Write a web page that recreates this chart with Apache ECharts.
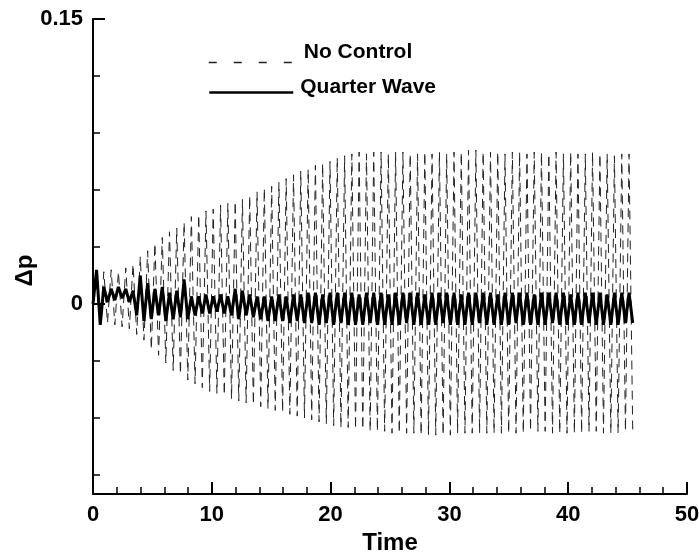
<!DOCTYPE html>
<html>
<head>
<meta charset="utf-8">
<script src="https://cdn.jsdelivr.net/npm/echarts@6/dist/echarts.min.js"></script>
<style>html,body{margin:0;padding:0;background:#fff}#chart{width:699px;height:553px}</style>
</head>
<body>
<div id="chart"></div>
<script>
const time = [0, 0.30, 0.61, 0.91, 1.22, 1.53, 1.84, 2.14, 2.45, 2.76, 3.06, 3.37, 3.68, 3.98, 4.29, 4.60, 4.91, 5.21, 5.52, 5.83, 6.13, 6.44, 6.75, 7.05, 7.36, 7.67, 7.98, 8.28, 8.59, 8.90, 9.20, 9.51, 9.82, 10.12, 10.43, 10.74, 11.05, 11.35, 11.66, 11.97, 12.27, 12.58, 12.89, 13.19, 13.50, 13.81, 14.12, 14.42, 14.73, 15.04, 15.34, 15.65, 15.96, 16.26, 16.57, 16.88, 17.19, 17.49, 17.80, 18.11, 18.41, 18.72, 19.03, 19.33, 19.64, 19.95, 20.26, 20.56, 20.87, 21.18, 21.48, 21.79, 22.10, 22.40, 22.71, 23.02, 23.33, 23.63, 23.94, 24.25, 24.55, 24.86, 25.17, 25.47, 25.78, 26.09, 26.40, 26.70, 27.01, 27.32, 27.62, 27.93, 28.24, 28.54, 28.85, 29.16, 29.47, 29.77, 30.08, 30.39, 30.69, 31.00, 31.31, 31.61, 31.92, 32.23, 32.54, 32.84, 33.15, 33.46, 33.76, 34.07, 34.38, 34.68, 34.99, 35.30, 35.61, 35.91, 36.22, 36.53, 36.83, 37.14, 37.45, 37.75, 38.06, 38.37, 38.68, 38.98, 39.29, 39.60, 39.90, 40.21, 40.52, 40.82, 41.13, 41.44, 41.75, 42.05, 42.36, 42.67, 42.97, 43.28, 43.59, 43.89, 44.20, 44.51, 44.82, 45.12, 45.43];

const noControl = [0,
  0.010, -0.011, 0.017, -0.010, 0.018, -0.011, 0.017, -0.012, 0.019, -0.013,
  0.021, -0.016, 0.025, -0.019, 0.028, -0.024, 0.032, -0.027, 0.035, -0.031,
  0.038, -0.035, 0.040, -0.037, 0.043, -0.040, 0.046, -0.042, 0.047, -0.044,
  0.049, -0.046, 0.050, -0.047, 0.052, -0.048, 0.053, -0.050, 0.054, -0.051,
  0.055, -0.052, 0.057, -0.053, 0.059, -0.054, 0.061, -0.055, 0.062, -0.056,
  0.064, -0.057, 0.066, -0.058, 0.068, -0.059, 0.070, -0.060, 0.071, -0.061,
  0.073, -0.062, 0.074, -0.063, 0.075, -0.064, 0.077, -0.065, 0.078, -0.065,
  0.079, -0.066, 0.080, -0.066, 0.079, -0.067, 0.080, -0.067, 0.080, -0.067,
  0.079, -0.068, 0.080, -0.068, 0.080, -0.068, 0.079, -0.068, 0.079, -0.069,
  0.080, -0.069, 0.079, -0.069, 0.080, -0.069, 0.079, -0.069, 0.080, -0.068,
  0.080, -0.068, 0.081, -0.068, 0.081, -0.068, 0.080, -0.068, 0.080, -0.068,
  0.080, -0.068, 0.079, -0.068, 0.080, -0.068, 0.080, -0.068, 0.079, -0.067,
  0.080, -0.067, 0.080, -0.067, 0.079, -0.068, 0.080, -0.068, 0.079, -0.068,
  0.080, -0.068, 0.079, -0.068, 0.079, -0.067, 0.080, -0.067, 0.079, -0.068,
  0.079, -0.068, 0.078, -0.068, 0.079, -0.067, 0.079, -0.066];

const quarterWave = [0,
  0.018, -0.011, 0.009, 0.001, 0.008, 0.002, 0.009, 0.003, 0.008, 0.001,
  0.007, -0.006, 0.015, -0.009, 0.011, -0.008, 0.008, -0.006, 0.009, -0.009,
  0.006, -0.008, 0.007, -0.007, 0.013, -0.008, 0.004, -0.006, 0.004, -0.005,
  0.005, -0.005, 0.004, -0.004, 0.005, -0.005, 0.004, -0.006, 0.008, -0.008,
  0.007, -0.006, 0.005, -0.007, 0.004, -0.008, 0.004, -0.009, 0.004, -0.009,
  0.005, -0.009, 0.004, -0.010, 0.005, -0.009, 0.005, -0.010, 0.006, -0.010,
  0.006, -0.011, 0.005, -0.010, 0.006, -0.011, 0.006, -0.010, 0.006, -0.011,
  0.006, -0.011, 0.005, -0.011, 0.006, -0.010, 0.006, -0.011, 0.006, -0.011,
  0.005, -0.011, 0.006, -0.011, 0.006, -0.010, 0.006, -0.011, 0.006, -0.011,
  0.005, -0.011, 0.006, -0.011, 0.006, -0.010, 0.006, -0.011, 0.006, -0.011,
  0.005, -0.011, 0.006, -0.011, 0.006, -0.010, 0.006, -0.011, 0.006, -0.011,
  0.005, -0.011, 0.006, -0.011, 0.006, -0.010, 0.006, -0.011, 0.006, -0.011,
  0.005, -0.011, 0.006, -0.011, 0.006, -0.010, 0.006, -0.011, 0.006, -0.011,
  0.005, -0.011, 0.006, -0.011, 0.006, -0.010, 0.006, -0.011, 0.006, -0.011,
  0.005, -0.011, 0.006, -0.011, 0.006, -0.010, 0.006, -0.010];

const xTicks = [0, 10, 20, 30, 40, 50];
const yMinorTicks = [-0.09, -0.06, -0.03, 0.03, 0.06, 0.09, 0.12];
const yLabelTicks = [0, 0.15];
const yLabelText = ['0', '0.15'];

const FONT = "'Liberation Sans', Arial, Helvetica, sans-serif";
const chart = echarts.init(document.getElementById('chart'), null, {renderer: 'canvas'});

const ncData = time.map((t, i) => [t, noControl[i]]);
const qwData = time.map((t, i) => [t, quarterWave[i]]);

const hiddenSymbol = {color: 'rgba(0,0,0,0)', borderColor: 'rgba(0,0,0,0)', borderWidth: 0, opacity: 0};
const legendRich = {n: {fontFamily: FONT, fontWeight: 'bold', fontSize: 21, color: '#000'}};

const option = {
  animation: false,
  backgroundColor: '#fff',
  grid: {left: 93, right: 12, top: 19, bottom: 59, containLabel: false, outerBoundsMode: 'none'},
  legend: [
    {
      data: ['No Control'], left: 208, top: 42, padding: 0,
      itemWidth: 84, itemHeight: 14, selectedMode: false, itemStyle: hiddenSymbol,
      lineStyle: {type: [8, 17], width: 1.5, color: '#222'},
      formatter: '{n|{name}}',
      textStyle: {fontFamily: FONT, fontWeight: 'bold', fontSize: 21, color: '#000', padding: [0, 0, 20, 6], rich: legendRich}
    },
    {
      data: ['Quarter Wave'], left: 208, top: 77, padding: 0,
      itemWidth: 84, itemHeight: 14, selectedMode: false, itemStyle: hiddenSymbol,
      lineStyle: {width: 2.5, color: '#000'},
      formatter: '{n|{name}}',
      textStyle: {fontFamily: FONT, fontWeight: 'bold', fontSize: 21, color: '#000', padding: [0, 0, 10, 2], rich: legendRich}
    }
  ],
  xAxis: {
    type: 'value', min: 0, max: 50, interval: 10,
    name: 'Time', nameLocation: 'middle', nameGap: 34,
    nameTextStyle: {fontFamily: FONT, fontWeight: 'bold', fontSize: 24, color: '#000'},
    axisLine: {show: true, onZero: false, lineStyle: {color: '#000', width: 2}},
    axisTick: {show: true, inside: true, length: 12, lineStyle: {color: '#000', width: 2}},
    minorTick: {show: true, splitNumber: 5, length: 7, lineStyle: {color: '#000', width: 1.5}},
    axisLabel: {fontFamily: FONT, fontWeight: 'bold', fontSize: 22, color: '#000', margin: 10, customValues: xTicks},
    splitLine: {show: false}
  },
  yAxis: [
    {
      type: 'value', min: -0.1, max: 0.15,
      name: 'Δp', nameLocation: 'middle', nameGap: 56, nameRotate: 90,
      nameTextStyle: {fontFamily: FONT, fontWeight: 'bold', fontSize: 24, color: '#000', padding: [0, 28, 0, 0]},
      axisLine: {show: true, onZero: false, lineStyle: {color: '#000', width: 2}},
      axisTick: {show: true, inside: true, length: 7, customValues: yMinorTicks, lineStyle: {color: '#000', width: 1.5}},
      axisLabel: {show: false},
      splitLine: {show: false}
    },
    {
      type: 'value', min: -0.1, max: 0.15, position: 'left',
      axisLine: {show: false, onZero: false},
      axisTick: {show: true, inside: true, length: 12, customValues: yLabelTicks, lineStyle: {color: '#000', width: 2}},
      axisLabel: {
        show: true, customValues: yLabelTicks, margin: 10,
        fontFamily: FONT, fontWeight: 'bold', fontSize: 22, color: '#000',
        formatter: function (v) { const i = yLabelTicks.indexOf(v); return i >= 0 ? yLabelText[i] : ''; }
      },
      splitLine: {show: false}
    }
  ],
  series: [
    {
      name: 'No Control', type: 'line', data: ncData, showSymbol: false, symbol: 'none',
      lineStyle: {color: '#222', width: 1, type: [9, 6]}, itemStyle: {color: '#222'}, z: 2
    },
    {
      name: 'Quarter Wave', type: 'line', data: qwData, showSymbol: false, symbol: 'none',
      lineStyle: {color: '#000', width: 3, type: 'solid'}, itemStyle: {color: '#000'}, z: 3
    }
  ]
};
chart.setOption(option);
</script>
</body>
</html>
